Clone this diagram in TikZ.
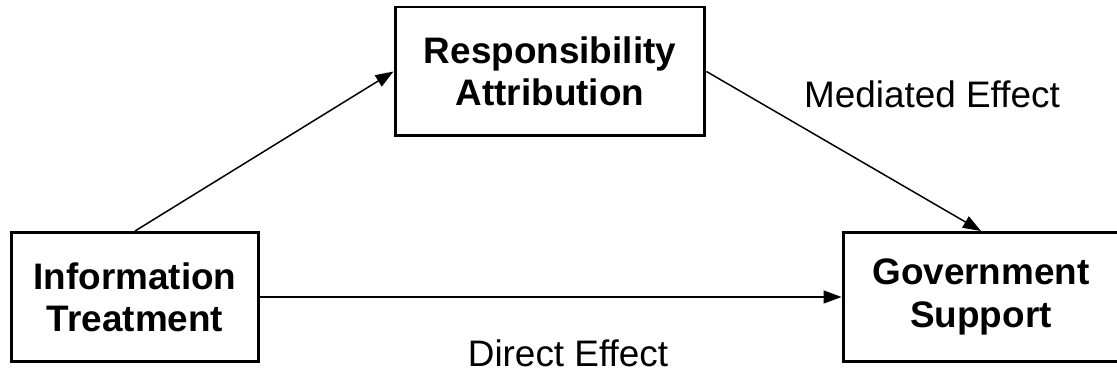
\documentclass[tikz,border=0pt]{standalone}
\usepackage{fontspec}
\setmainfont{Liberation Sans}
\usetikzlibrary{arrows.meta}

\def\boxHeight{2.58cm}

\begin{document}
\begin{tikzpicture}[x=0.02cm, y=-0.02cm,
    varbox/.style = {draw, line width=1.7pt, minimum height=\boxHeight,
        align=center, font=\fontsize{21}{24}\selectfont\bfseries},
    effectlabel/.style = {inner sep=1pt, font=\fontsize{21}{24}\selectfont},
    path/.style = {line width=0.85pt, -{Triangle[length=0.36cm, width=0.26cm]}}
    ]
            \useasboundingbox (0,0) rectangle (1117,374);
            \node [varbox, minimum width=4.96cm] (info) at (135,297)
                {Information\\Treatment};
            \node [varbox, minimum width=6.2cm] (resp) at (550,71.5)
                {Responsibility\\Attribution};
            \node [varbox, minimum width=5.52cm] (gov) at (981,297)
                {Government\\Support};
            \draw [path] (info.north) -- (resp.west);
            \draw [path] (resp.east) -- (gov.north);
            \draw [path] (info.east) -- (gov.west);
            \node [effectlabel] (mediated) at (932,94) {Mediated Effect};
            \node [effectlabel] (direct) at (568,353) {Direct Effect};
        \end{tikzpicture}
\end{document}
